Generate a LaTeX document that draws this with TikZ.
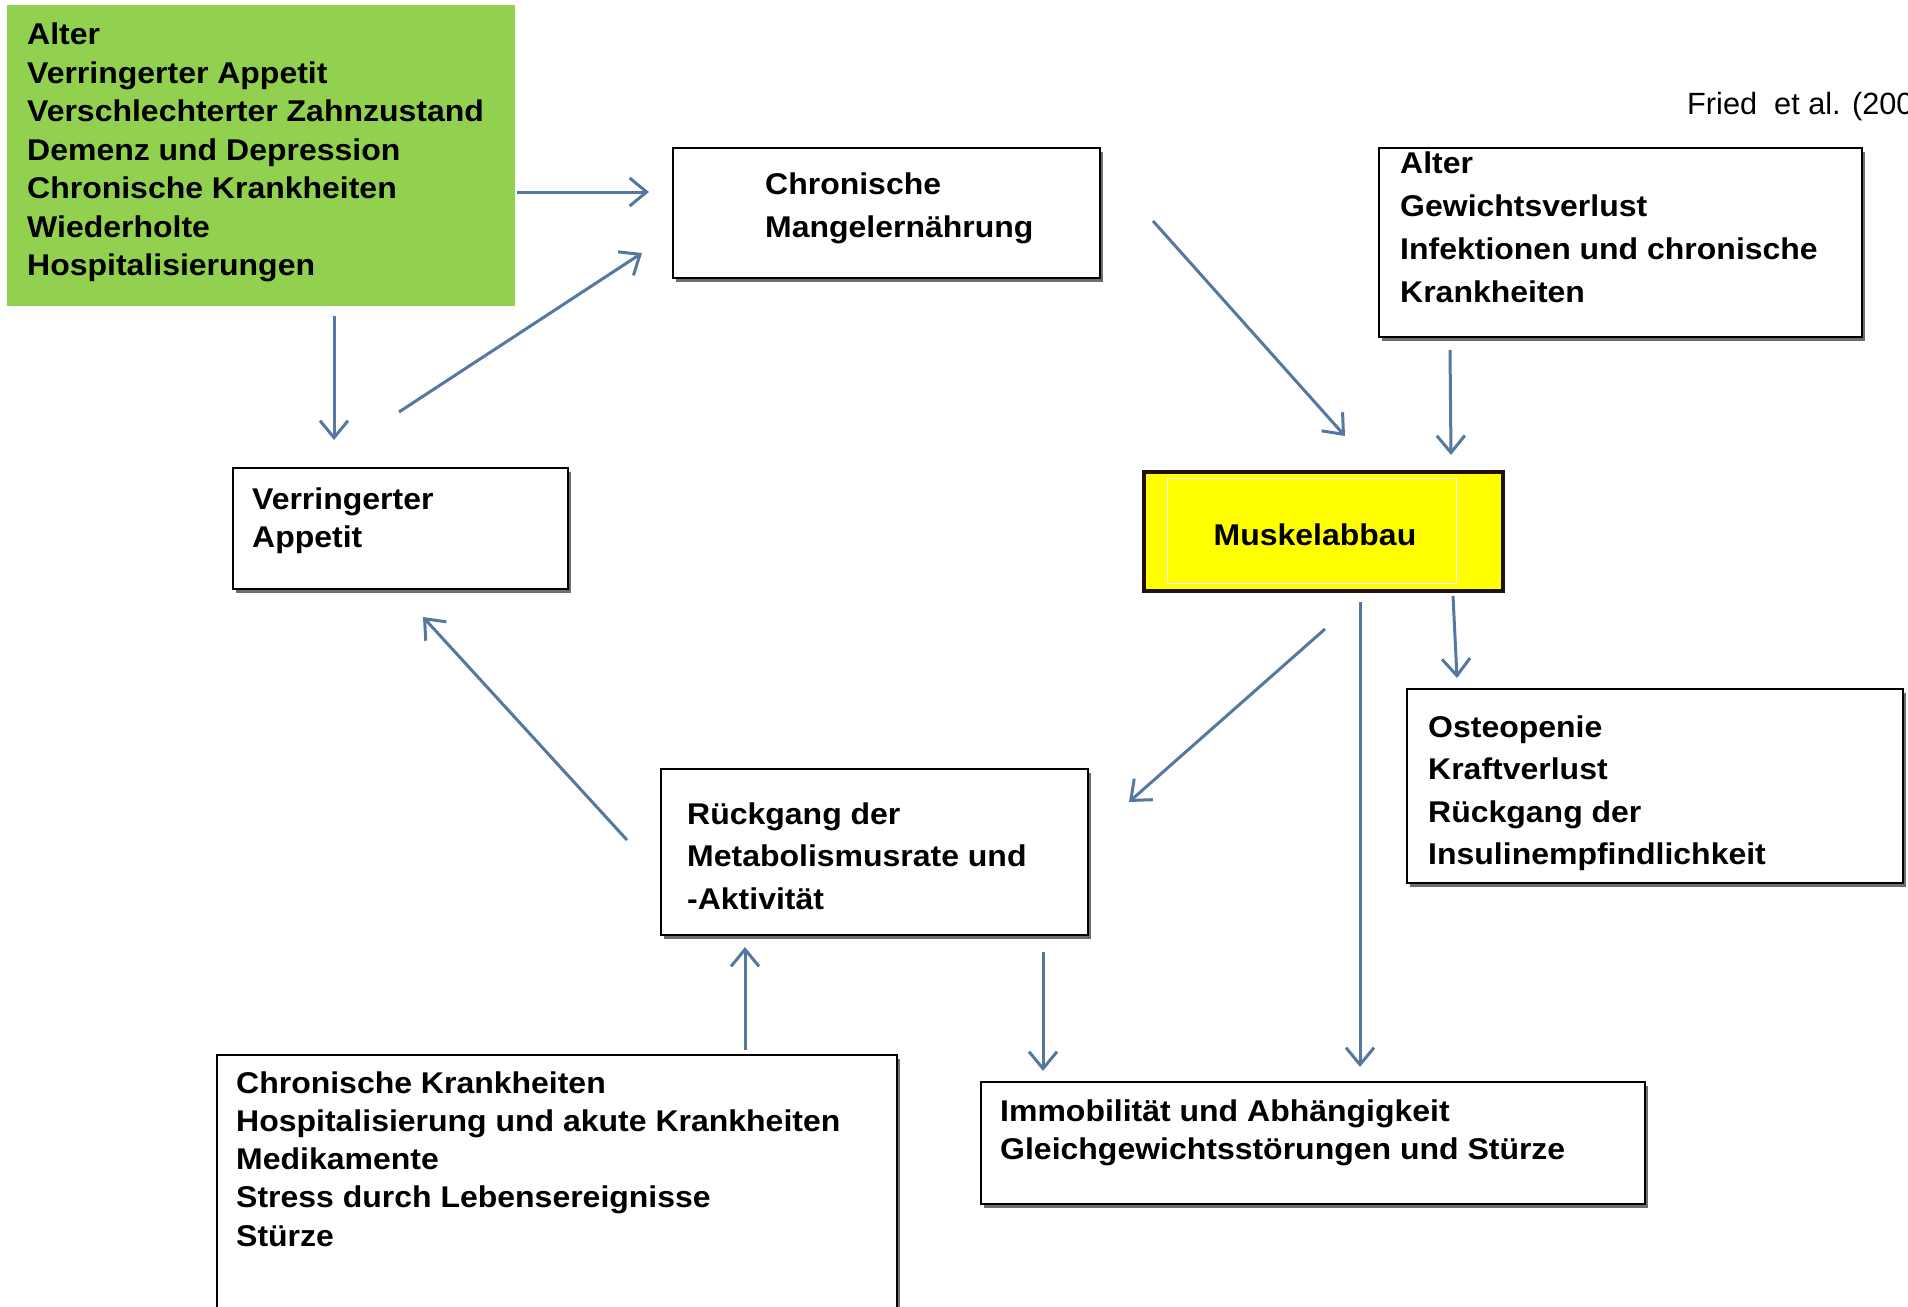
\documentclass[tikz,border=0pt]{standalone}
\usepackage{fontspec}
\setmainfont{Liberation Sans}
\newfontfamily\boxfont{Liberation Sans}[FakeStretch=1.066]
\usetikzlibrary{arrows.meta,shadows}
\definecolor{arrowblue}{HTML}{5478A0}
\definecolor{boxgreen}{HTML}{92D050}
\definecolor{shadowgrey}{HTML}{6E6E6E}
\definecolor{muskelyellow}{HTML}{FFFF00}
\begin{document}
\begin{tikzpicture}[x=1pt,y=-1pt,
  framebox/.style={draw=black, line width=2.5pt, fill=white, inner sep=0pt,
    drop shadow={shadow xshift=3pt, shadow yshift=-3.5pt, fill=shadowgrey, opacity=1}},
  greenbox/.style={fill=boxgreen, draw=none, inner sep=0pt},
  musbox/.style={fill=muskelyellow, draw=black!85!brown, line width=3.5pt, inner sep=0pt},
  txt/.style={anchor=base west, inner sep=0pt, text=black},
  conn/.style={draw=arrowblue, line width=3pt,
    -{Straight Barb[length=17pt,width=28pt,line width=3pt]}},
]
\useasboundingbox (0,0) rectangle (1908,1306);
\fill[white] (0,0) rectangle (1908,1306);

% boxes
\node[greenbox, minimum width=508pt, minimum height=301pt] (green) at (261,155.5) {};
\node[framebox, minimum width=427pt, minimum height=130pt] (cm) at (886.5,213) {};
\node[framebox, minimum width=483pt, minimum height=189pt] (tr) at (1620.5,242.5) {};
\node[framebox, minimum width=335pt, minimum height=121pt] (va) at (400.5,528.5) {};
\node[musbox, minimum width=359pt, minimum height=119pt] (mu) at (1323.5,531.5) {};
\draw[white, line width=0.8pt] (1167,478) rectangle (1456,583);
\node[framebox, minimum width=496pt, minimum height=194pt] (os) at (1655,786) {};
\node[framebox, minimum width=427pt, minimum height=166pt] (rg) at (874.5,852) {};
\node[framebox, minimum width=680pt, minimum height=275pt] (bl) at (557,1192.5) {};
\node[framebox, minimum width=664pt, minimum height=122pt] (im) at (1313,1143) {};

% texts
\node[txt, font=\boxfont\bfseries\fontsize{30}{38.5}\selectfont] (greenT) at (27,45)
  {\parbox[t]{480pt}{Alter\\Verringerter Appetit\\Verschlechterter Zahnzustand\\Demenz und Depression\\Chronische Krankheiten\\Wiederholte\\Hospitalisierungen}};
\node[txt, font=\boxfont\bfseries\fontsize{30}{43}\selectfont] (cmT) at (765,194)
  {\parbox[t]{320pt}{Chronische\\Mangelernährung}};
\node[txt, font=\boxfont\bfseries\fontsize{30}{43}\selectfont] (trT) at (1400,173.5)
  {\parbox[t]{450pt}{Alter\\Gewichtsverlust\\Infektionen und chronische\\Krankheiten}};
\node[txt, font=\boxfont\bfseries\fontsize{30}{38}\selectfont] (vaT) at (252,509)
  {\parbox[t]{300pt}{Verringerter\\Appetit}};
\node[anchor=base, inner sep=0pt, font=\boxfont\bfseries\fontsize{30}{38}\selectfont] (muT) at (1315,545) {Muskelabbau};
\node[txt, font=\boxfont\bfseries\fontsize{30}{42.5}\selectfont] (osT) at (1428,737)
  {\parbox[t]{460pt}{Osteopenie\\Kraftverlust\\Rückgang der\\Insulinempfindlichkeit}};
\node[txt, font=\boxfont\bfseries\fontsize{30}{42.3}\selectfont] (rgT) at (687,824.5)
  {\parbox[t]{395pt}{Rückgang der\\Metabolismusrate und\\-Aktivität}};
\node[txt, font=\boxfont\bfseries\fontsize{30}{38.3}\selectfont] (blT) at (236,1093)
  {\parbox[t]{650pt}{Chronische Krankheiten\\Hospitalisierung und akute Krankheiten\\Medikamente\\Stress durch Lebensereignisse\\Stürze}};
\node[txt, font=\boxfont\bfseries\fontsize{30}{38}\selectfont] (imT) at (1000,1121)
  {\parbox[t]{640pt}{Immobilität und Abhängigkeit\\Gleichgewichtsstörungen und Stürze}};
\node[txt, font=\fontsize{30.7}{36}\selectfont] (fried) at (1687,114) {Fried\ \ et al. (200};

% connector end points
\coordinate (a1s) at (517,192);   \coordinate (a1e) at (649,192);
\coordinate (a2s) at (399,412);   \coordinate (a2e) at (642,253);
\coordinate (a3s) at (334,316);   \coordinate (a3e) at (334,440);
\coordinate (a4s) at (1153,221);  \coordinate (a4e) at (1345,436);
\coordinate (a5s) at (1450,350);  \coordinate (a5e) at (1451,455);
\coordinate (a6s) at (1453,596);  \coordinate (a6e) at (1457,678);
\coordinate (a7s) at (1325,629);  \coordinate (a7e) at (1129,802);
\coordinate (a8s) at (1360,602);  \coordinate (a8e) at (1360,1067);
\coordinate (a9s) at (627,840);   \coordinate (a9e) at (423,617);
\coordinate (a10s) at (745,1050); \coordinate (a10e) at (745,947);
\coordinate (a11s) at (1043,952); \coordinate (a11e) at (1043,1071);

\draw[conn] (a1s) -- (a1e);
\draw[conn] (a2s) -- (a2e);
\draw[conn] (a3s) -- (a3e);
\draw[conn] (a4s) -- (a4e);
\draw[conn] (a5s) -- (a5e);
\draw[conn] (a6s) -- (a6e);
\draw[conn] (a7s) -- (a7e);
\draw[conn] (a8s) -- (a8e);
\draw[conn] (a9s) -- (a9e);
\draw[conn] (a10s) -- (a10e);
\draw[conn] (a11s) -- (a11e);
\end{tikzpicture}
\end{document}
